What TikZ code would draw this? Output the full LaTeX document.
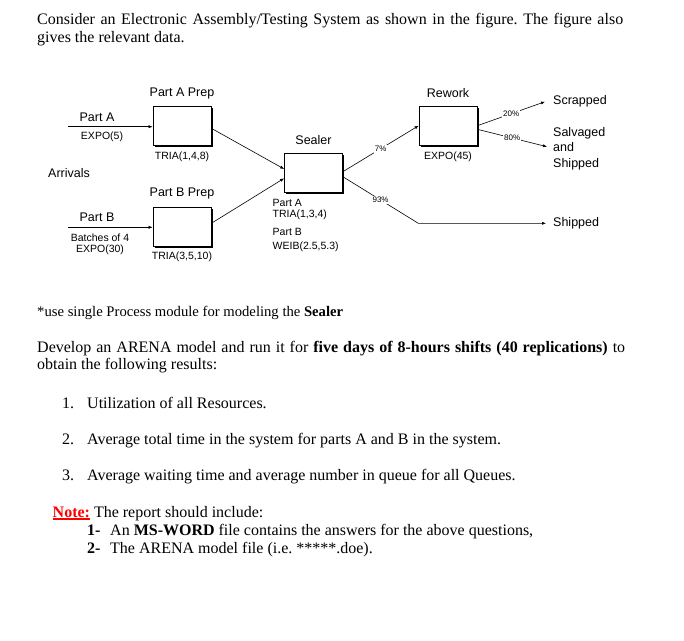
\documentclass[tikz,border=0pt]{standalone}
\usepackage{fontspec}
\setmainfont{Liberation Serif}
\newfontfamily\diagfont{Liberation Sans}
\usetikzlibrary{arrows.meta,shadows}
\newcommand\thickul[1]{\vtop{\hbox{#1}\kern0.9pt\hrule height1.5pt}}
\frenchspacing
\begin{document}
\begin{tikzpicture}[x=1pt,y=-1pt,
  procbox/.style={draw, line width=0.7pt, fill=white, minimum width=58pt, minimum height=39pt, inner sep=0pt,
     drop shadow={opacity=1, shadow xshift=1.6pt, shadow yshift=-1.6pt, fill=black}},
  flow/.style={line width=0.6pt, -{Latex[length=4pt,width=3.2pt]}},
  ttl/.style={font=\diagfont\fontsize{12.5}{14}\selectfont, inner sep=0pt},
  dat/.style={font=\diagfont\fontsize{10.5}{12.5}\selectfont, inner sep=0pt},
  pct/.style={font=\diagfont\fontsize{8}{9}\selectfont, fill=white, inner sep=1pt},
  body/.style={font=\fontsize{16}{18}\selectfont, anchor=base west, inner sep=0pt},
  small/.style={font=\fontsize{14.67}{17}\selectfont, anchor=base west, inner sep=0pt}]
\useasboundingbox (0,0) rectangle (684,640);
% ---- text top
\node[body] (t1) at (37,24) {\makebox[586pt][s]{Consider an Electronic Assembly/Testing System as shown in the figure. The figure also}};
\node[body] (t2) at (37,42) {gives the relevant data.};
% ---- diagram boxes
\node[procbox] (pa) at (182,126) {};
\node[procbox] (pb) at (182,226.5) {};
\node[procbox] (seal) at (313.5,173) {};
\node[procbox] (rew) at (448,126) {};
% titles
\node[ttl] (lpa) at (182,93) {Part A Prep};
\node[ttl] (lpb) at (182,193) {Part B Prep};
\node[ttl] (lseal) at (313.5,140) {Sealer};
\node[ttl] (lrew) at (448,93) {Rework};
\node[ttl] (arr) at (69,173) {Arrivals};
\node[ttl] (partA) at (97,117) {Part A};
\node[ttl] (partB) at (97,217.5) {Part B};
\node[dat] (expo5) at (102,137) {EXPO(5)};
\node[dat] (batch) at (100,238) {Batches of 4};
\node[dat] (expo30) at (100,249.5) {EXPO(30)};
\node[dat] (tria148) at (182,156.5) {TRIA(1,4,8)};
\node[dat] (tria3510) at (182,257) {TRIA(3,5,10)};
\node[dat] (expo45) at (448,156.5) {EXPO(45)};
\node[dat, anchor=west] (sa) at (272.5,202.5) {Part A};
\node[dat, anchor=west] (sa2) at (272.5,215) {TRIA(1,3,4)};
\node[dat, anchor=west] (sb) at (272.5,232) {Part B};
\node[dat, anchor=west] (sb2) at (272.5,246.5) {WEIB(2.5,5.3)};
% outputs
\node[ttl, anchor=west] (scr) at (553,101.7) {Scrapped};
\node[ttl, anchor=west, align=left, font=\diagfont\fontsize{12.5}{15.5}\selectfont] (salv) at (553,148.5) {Salvaged\\and\\Shipped};
\node[ttl, anchor=west] (ship) at (553,223.3) {Shipped};
% connectors
\coordinate (ina) at (68,126.7);
\coordinate (inb) at (68,227.3);
\draw[flow] (ina) -- (pa.west |- ina);
\draw[flow] (inb) -- (pb.west |- inb);
\draw[flow] ([yshift=-2.3pt]pa.east) -- ([yshift=4pt]seal.west);
\draw[flow] ([yshift=3.2pt]pb.east) -- ([yshift=-5.3pt]seal.west);
\draw[flow] ([yshift=1.3pt]seal.east) -- node[pct] {7\%} ([yshift=0.3pt]rew.west);
\coordinate (bend) at (418.3,223.3);
\draw[flow] ([yshift=-3.7pt]seal.east) -- node[pct] {93\%} (bend) -- ([xshift=-7pt]ship.west);
\draw[flow] ([yshift=0.3pt]rew.east) -- node[pct] {20\%} ([xshift=-8pt]scr.west);
\draw[flow] ([yshift=-3.3pt]rew.east) -- node[pct] {80\%} ([xshift=-6pt,yshift=1.8pt]salv.west);
% ---- text bottom
\node[small] (u1) at (37,316) {*use single Process module for modeling the \textbf{Sealer}};
\node[body] (d1) at (37,352) {\makebox[588pt][s]{Develop an ARENA model and run it for \textbf{five days of 8-hours shifts (40 replications)} to}};
\node[body] (d2) at (37,369) {obtain the following results:};
\node[body] (n1) at (62,408) {1.};
\node[body] (i1) at (87,408) {Utilization of all Resources.};
\node[body] (n2) at (62,444) {2.};
\node[body] (i2) at (87,444) {Average total time in the system for parts A and B in the system.};
\node[body] (n3) at (62,480) {3.};
\node[body] (i3) at (87,480) {Average waiting time and average number in queue for all Queues.};
\node[body] (note) at (52.5,517) {\textcolor{red}{\thickul{\textbf{Note:}}} The report should include:};
\node[body] (r1n) at (87,535) {\textbf{1-}};
\node[body] (r1) at (110,535) {An \textbf{MS-WORD} file contains the answers for the above questions,};
\node[body] (r2n) at (87,553) {\textbf{2-}};
\node[body] (r2) at (110,553) {The ARENA model file (i.e. *****.doe).};
\end{tikzpicture}
\end{document}
